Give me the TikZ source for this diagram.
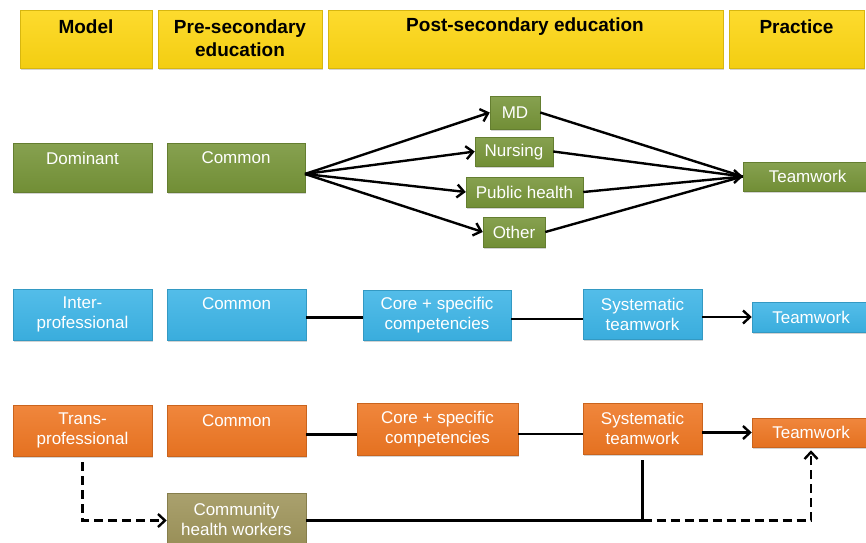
\documentclass[tikz,border=0pt]{standalone}
\usepackage{fontspec}
\setmainfont{Liberation Sans}
\usetikzlibrary{arrows.meta,shadows,calc}
\definecolor{cyel}{RGB}{253,214,18}
\definecolor{cgrn}{RGB}{118,148,56}
\definecolor{cblu}{RGB}{60,180,230}
\definecolor{corg}{RGB}{238,118,34}
\definecolor{ctan}{RGB}{158,148,90}
\newcommand{\bx}[6]{%
  \node[cbox=#6, minimum width={(#4-#2)*1pt}, minimum height={(#5-#3)*1pt}] (#1) at ({(#2+#4)/2},{(#3+#5)/2}) {};}
\tikzset{
  cbox/.style={rectangle, inner sep=0pt, draw=#1!85!black, line width=0.5pt,
    top color=#1!88!white, middle color=#1, bottom color=#1!96!black,
    drop shadow={shadow xshift=1.3pt, shadow yshift=-1.8pt, opacity=0.35}},
  wt/.style={text=white, font=\fontsize{17}{20}\selectfont, align=center, inner sep=0pt},
  hdt/.style={text=black, font=\bfseries\fontsize{19}{23}\selectfont, align=center, inner sep=0pt},
  ln/.style={line width=2.4pt},
  arr/.style={line width=2.4pt, -{Straight Barb[length=7pt,width=13pt]}},
  darr/.style={line width=2.4pt, dash pattern=on 9pt off 5pt, -{Straight Barb[length=7pt,width=13pt]}}
}
\begin{document}
\begin{tikzpicture}[x=1pt,y=-1pt]
\useasboundingbox (0,0) rectangle (866,542);
% header
\bx{h1}{20}{10}{152}{68}{cyel}
\bx{h2}{158}{10}{322}{68}{cyel}
\bx{h3}{328}{10}{723}{68}{cyel}
\bx{h4}{729}{10}{864}{68}{cyel}
\node[hdt] (h1t) at (86,27) {Model};
\node[hdt] (h2t) at (240,38.5) {Pre-secondary\\education};
\node[hdt] (h3t) at (525,27) {Post-secondary education};
\node[hdt] (h4t) at (796.5,27) {Practice};
% row 1
\bx{dom}{13}{143}{152}{192}{cgrn}
\bx{c1}{167}{143}{305}{192}{cgrn}
\bx{md}{490}{96}{540}{129}{cgrn}
\bx{nur}{475}{137}{553}{166}{cgrn}
\bx{ph}{466}{177}{583}{207}{cgrn}
\bx{oth}{483}{217}{545}{247}{cgrn}
\bx{tw1}{743}{162}{870}{191}{cgrn}
\node[wt] (domt) at (82.5,158) {Dominant};
\node[wt] (c1t) at (236,158) {Common};
\node[wt] (mdt) at (515,112.5) {MD};
\node[wt] (nurt) at (514,152) {Nursing};
\node[wt] (pht) at (524.5,192) {Public health};
\node[wt] (otht) at (514,232) {Other};
\node[wt] (tw1t) at (807.5,176.5) {Teamwork};
\coordinate (c1o) at (305,174);
\draw[arr] (c1o) -- (md.west);
\draw[arr] (c1o) -- (nur.west);
\draw[arr] (c1o) -- (ph.west);
\draw[arr] (c1o) -- (oth.west);
\draw[ln] (md.east) -- (tw1.west);
\draw[ln] (nur.east) -- (tw1.west);
\draw[ln] (ph.east) -- (tw1.west);
\draw[ln] (oth.east) -- (tw1.west);
\draw[arr] ([xshift=-3pt]tw1.west) -- (tw1.west);
% row 2
\bx{ip}{13}{289}{152}{340}{cblu}
\bx{c2}{167}{289}{306}{340}{cblu}
\bx{core2}{363}{290}{511}{340}{cblu}
\bx{sys2}{583}{289}{702}{339}{cblu}
\bx{tw2}{752}{302}{870}{332}{cblu}
\node[wt] (ipt) at (82.5,314.5) {Inter-\\professional};
\node[wt] (c2t) at (236.5,304) {Common};
\node[wt] (core2t) at (437,315) {Core + specific\\competencies};
\node[wt] (sys2t) at (642.5,314.5) {Systematic\\teamwork};
\node[wt] (tw2t) at (811,317) {Teamwork};
\draw[ln] ([yshift=-3pt]c2.east) -- ([yshift=-3pt]c2.east -| core2.west);
\draw[ln] ([yshift=-4pt]core2.east) -- ([yshift=-4pt]core2.east -| sys2.west);
\draw[arr] (tw2.west -| sys2.east) -- (tw2.west);
% row 3
\bx{tp}{13}{405}{152}{456}{corg}
\bx{c3}{167}{405}{306}{456}{corg}
\bx{core3}{357}{403}{518}{455}{corg}
\bx{sys3}{583}{403}{702}{454}{corg}
\bx{tw3}{752}{418}{870}{447}{corg}
\bx{chw}{167}{493}{306}{548}{ctan}
\node[wt] (tpt) at (82.5,430.5) {Trans-\\professional};
\node[wt] (c3t) at (236.5,421) {Common};
\node[wt] (core3t) at (437.5,429) {Core + specific\\competencies};
\node[wt] (sys3t) at (642.5,428.5) {Systematic\\teamwork};
\node[wt] (tw3t) at (811,432.5) {Teamwork};
\node[wt] (chwt) at (236.5,519) {Community\\health workers};
\draw[ln] ([yshift=-4pt]c3.east) -- ([yshift=-4pt]c3.east -| core3.west);
\draw[ln] ([yshift=-5pt]core3.east) -- ([yshift=-5pt]core3.east -| sys3.west);
\draw[arr] (tw3.west -| sys3.east) -- (tw3.west);
\draw[darr] ([yshift=-6pt]tp.south) |- (chw.west);
\coordinate (j) at (sys3.south |- chw.east);
\draw[ln] (chw.east) -- (j);
\draw[ln] ([yshift=-6pt]sys3.south) -- (j);
\draw[darr, shorten >=3pt] (j) -| (tw3.south);
\end{tikzpicture}
\end{document}
